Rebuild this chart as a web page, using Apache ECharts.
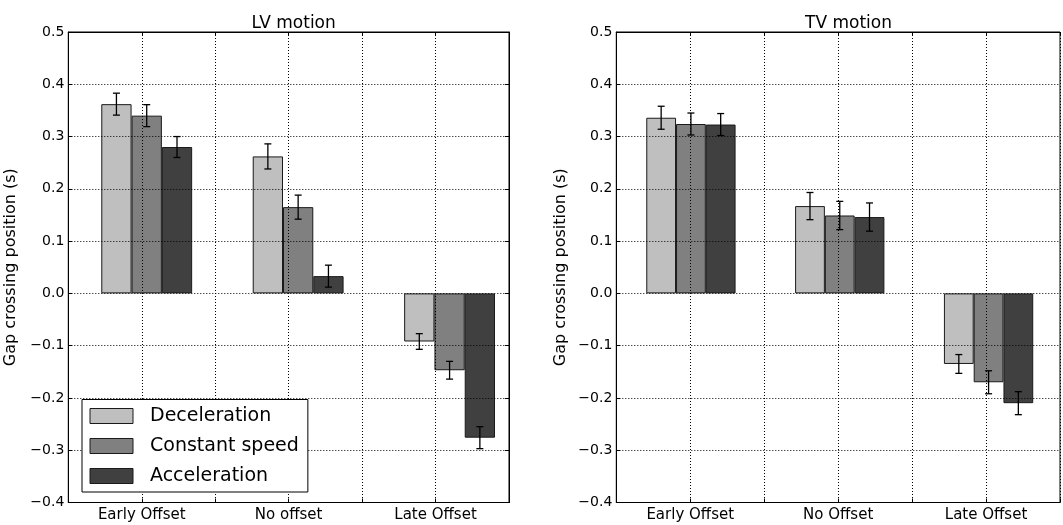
<!DOCTYPE html>
<html>
<head>
<meta charset="utf-8">
<script src="https://cdn.jsdelivr.net/npm/echarts@6/dist/echarts.min.js"></script>
<style>html,body{margin:0;padding:0;background:#fff;}#c{width:1063px;height:525px;}</style>
</head>
<body>
<div id="c"></div>
<script>
// ---- data ----
const categoriesLV = ["Early Offset", "No offset", "Late Offset"];
const categoriesTV = ["Early Offset", "No Offset", "Late Offset"];
const seriesNames = ["Deceleration", "Constant speed", "Acceleration"];
const panelTitles = ["LV motion", "TV motion"];
const yAxisName = "Gap crossing position (s)";

const lvDecel = [0.362, 0.262, -0.092];
const lvConst = [0.340, 0.165, -0.147];
const lvAccel = [0.280, 0.033, -0.276];
const lvDecelErr = [0.021, 0.024, 0.015];
const lvConstErr = [0.021, 0.023, 0.017];
const lvAccelErr = [0.020, 0.021, 0.021];

const tvDecel = [0.336, 0.167, -0.135];
const tvConst = [0.324, 0.149, -0.170];
const tvAccel = [0.323, 0.146, -0.210];
const tvDecelErr = [0.022, 0.026, 0.018];
const tvConstErr = [0.021, 0.027, 0.022];
const tvAccelErr = [0.021, 0.027, 0.022];

const yMin = -0.4, yMax = 0.5, yStep = 0.1;

// ---- styles ----
const FONT = "DejaVu Sans";
const colors = ["#bfbfbf", "#808080", "#404040"];

function fmtY(v) {
  const r = Math.round(v * 10) / 10;
  const s = Math.abs(r).toFixed(1);
  return (r < -1e-9 ? "\u2212" : "") + s;
}

const lvVals = [lvDecel, lvConst, lvAccel];
const lvErrs = [lvDecelErr, lvConstErr, lvAccelErr];
const tvVals = [tvDecel, tvConst, tvAccel];
const tvErrs = [tvDecelErr, tvConstErr, tvAccelErr];

// grids: 0 = LV visible frame, 1 = LV bars, 2 = TV visible frame, 3 = TV bars
const grids = [
  { left: 68.3, right: 1063 - 509, top: 32, bottom: 22.5, show: true, borderColor: "#000", borderWidth: 1, backgroundColor: "transparent" },
  { left: 71, right: 1063 - 525.3, top: 32, bottom: 22.5 },
  { left: 616.3, right: -7, top: 32, bottom: 22.5, show: true, borderColor: "#000", borderWidth: 1, backgroundColor: "transparent" },
  { left: 616.5, right: -7.5, top: 32, bottom: 22.5 }
];

const gridLine = { show: true, lineStyle: { color: "#000", type: [1, 2], width: 1 } };
const tick = { show: true, inside: true, length: 4, lineStyle: { color: "#000" } };
const line = { show: true, onZero: false, lineStyle: { color: "#000", width: 1 } };

function visX(gi, cats) {
  return {
    type: "value", gridIndex: gi, min: 0, max: 6, interval: 1, z: 10,
    axisLine: line, axisTick: tick,
    axisLabel: {
      color: "#000", fontFamily: FONT, fontSize: 15, margin: 5,
      formatter: function (v) { return (v % 2 === 1) ? cats[(v - 1) / 2] : ""; }
    },
    splitLine: gridLine
  };
}
function topX(gi) {
  return {
    type: "value", gridIndex: gi, position: "top", min: 0, max: 6, interval: 1, z: 10,
    axisLine: line, axisTick: tick, axisLabel: { show: false }, splitLine: { show: false }
  };
}
function visY(gi, nameGap) {
  return {
    type: "value", gridIndex: gi, min: yMin, max: yMax, interval: yStep, z: 10,
    name: yAxisName, nameLocation: "middle", nameGap: nameGap,
    nameTextStyle: { color: "#000", fontFamily: FONT, fontSize: 16 },
    axisLine: line, axisTick: tick,
    axisLabel: { color: "#000", fontFamily: FONT, fontSize: 14, margin: 4, formatter: fmtY },
    splitLine: gridLine
  };
}
function rightY(gi) {
  return {
    type: "value", gridIndex: gi, position: "right", min: yMin, max: yMax, interval: yStep, z: 10,
    axisLine: line, axisTick: tick, axisLabel: { show: false }, splitLine: { show: false }
  };
}
function hidX(gi, cats) {
  return { type: "category", gridIndex: gi, data: cats, show: false, boundaryGap: true, axisLine: { show: false, onZero: false } };
}
function hidY(gi) {
  return { type: "value", gridIndex: gi, min: yMin, max: yMax, show: false, axisLine: { show: false, onZero: false } };
}

const xAxes = [visX(0, categoriesLV), hidX(1, categoriesLV), visX(2, categoriesTV), hidX(3, categoriesTV), topX(0), topX(2)];
const yAxes = [visY(0, 49), hidY(1), visY(2, 47), hidY(3), rightY(0)];

const series = [];
function addPanel(vals, errs, xi, yi) {
  for (let j = 0; j < 3; j++) {
    series.push({
      type: "bar", name: seriesNames[j], xAxisIndex: xi, yAxisIndex: yi,
      data: vals[j], barWidth: "20%", barGap: "0%",
      itemStyle: { color: colors[j], borderColor: "#1a1a1a", borderWidth: 1 },
      emphasis: { disabled: true }, z: 2
    });
  }
  const ed = [];
  for (let j = 0; j < 3; j++) {
    for (let i = 0; i < vals[j].length; i++) ed.push([i, vals[j][i], errs[j][i], j]);
  }
  series.push({
    type: "custom", name: "err", xAxisIndex: xi, yAxisIndex: yi, z: 20,
    encode: { x: 0, y: 1 }, data: ed, silent: true,
    renderItem: function (params, api) {
      const cat = api.value(0), v = api.value(1), e = api.value(2), j = api.value(3);
      const band = api.size([1, 0])[0];
      const bw = band * 0.2;
      const cx = api.coord([cat, v])[0] + (j - 1) * bw;
      const yt = api.coord([cat, v + e])[1];
      const yb = api.coord([cat, v - e])[1];
      const cap = 3.5;
      const st = { stroke: "#000", lineWidth: 1.3 };
      return {
        type: "group", children: [
          { type: "line", shape: { x1: cx, y1: yt, x2: cx, y2: yb }, style: st },
          { type: "line", shape: { x1: cx - cap, y1: yt, x2: cx + cap, y2: yt }, style: st },
          { type: "line", shape: { x1: cx - cap, y1: yb, x2: cx + cap, y2: yb }, style: st }
        ]
      };
    }
  });
}
addPanel(lvVals, lvErrs, 1, 1);
addPanel(tvVals, tvErrs, 3, 3);

const chart = echarts.init(document.getElementById("c"), null, { renderer: "canvas" });
chart.setOption({
  animation: false,
  backgroundColor: "#fff",
  textStyle: { fontFamily: FONT },
  title: [
    { text: panelTitles[0], left: 288.7, top: 10, textAlign: "center", textStyle: { fontFamily: FONT, fontSize: 17, fontWeight: "normal", color: "#000" } },
    { text: panelTitles[1], left: 843.5, top: 10, textAlign: "center", textStyle: { fontFamily: FONT, fontSize: 17, fontWeight: "normal", color: "#000" } }
  ],
  legend: {
    data: seriesNames, orient: "vertical", left: 82, top: 399.5,
    padding: [6.5, 9, 6, 7.5], itemGap: 10, itemWidth: 43, itemHeight: 15,
    backgroundColor: "#fff", borderColor: "#000", borderWidth: 1,
    icon: "rect", selectedMode: false, z: 30,
    itemStyle: { borderColor: "#1a1a1a", borderWidth: 1 },
    textStyle: { fontFamily: FONT, fontSize: 19, lineHeight: 20, color: "#000", padding: [0, 0, 0, 12] }
  },
  grid: grids,
  xAxis: xAxes,
  yAxis: yAxes,
  series: series
});
</script>
</body>
</html>
